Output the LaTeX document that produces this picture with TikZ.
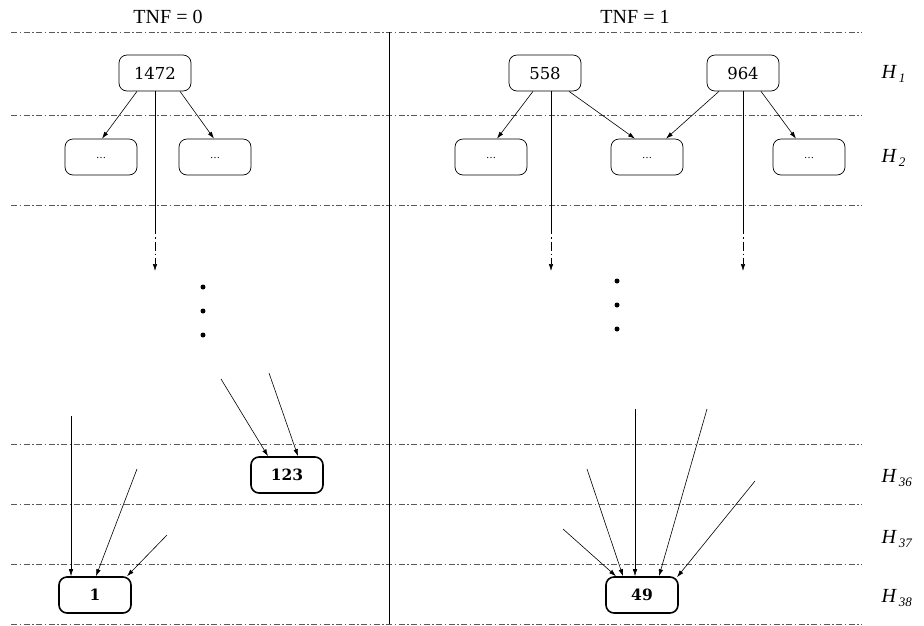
\documentclass[tikz,border=0pt]{standalone}
\usepackage{fontspec}
\newfontfamily\tms{Liberation Serif}
\newfontfamily\dvs{DejaVu Serif}
\usetikzlibrary{arrows.meta}
\begin{document}
\begin{tikzpicture}[x=1pt,y=-1pt,
  level/.style={draw=black!65,line width=0.7pt,dash pattern=on 6pt off 2.5pt on 1.5pt off 2.5pt},
  tnode/.style={draw,rounded corners=8pt,minimum width=72pt,minimum height=36pt,inner sep=0pt,line width=0.7pt,font=\dvs\fontsize{16.5}{16.5}\selectfont},
  bnode/.style={tnode,line width=1.6pt,font=\dvs\fontsize{15.5}{15.5}\selectfont\bfseries},
  arr/.style={line width=0.6pt,-{Latex[length=7pt,width=4.5pt]}},
  dd/.style={arr,dash pattern=on 9pt off 3pt on 1.5pt off 3pt},
  hlab/.style={font=\fontsize{20}{20}\selectfont\tms\itshape,anchor=west},
  dotc/.style={circle,fill,inner sep=0pt,minimum size=5pt}
]
\useasboundingbox (0,0) rectangle (924,625);
% level lines
\foreach \y in {32,115,205,444,504,564,624}
  \draw[level] (11,\y) -- (862,\y);
\coordinate (vt) at (389,32);
\coordinate (vb) at (389,624);
\draw[line width=0.8pt] (vt) -- (vb);
% titles
\node[font=\fontsize{20}{20}\selectfont\tms] (t0) at (168,17) {TNF = 0};
\node[font=\fontsize{20}{20}\selectfont\tms] (t1) at (635,17) {TNF = 1};
% level labels
\node[hlab] (h1) at (878,74) {H\kern3pt\raisebox{-4pt}{\fontsize{13}{13}\selectfont 1}};
\node[hlab] (h2) at (878,158) {H\kern3pt\raisebox{-4pt}{\fontsize{13}{13}\selectfont 2}};
\node[hlab] (h36) at (878,478) {H\kern3pt\raisebox{-4pt}{\fontsize{13}{13}\selectfont 36}};
\node[hlab] (h37) at (878,539) {H\kern3pt\raisebox{-4pt}{\fontsize{13}{13}\selectfont 37}};
\node[hlab] (h38) at (878,598) {H\kern3pt\raisebox{-4pt}{\fontsize{13}{13}\selectfont 38}};
% nodes
\node[tnode] (n1472) at (155,73) {1472};
\node[tnode,font=\dvs\fontsize{10}{10}\selectfont] (l1) at (101,157) {\raisebox{-3pt}{…}};
\node[tnode,font=\dvs\fontsize{10}{10}\selectfont] (l2) at (215,157) {\raisebox{-3pt}{…}};
\node[tnode] (n558) at (545,73) {558};
\node[tnode] (n964) at (743,73) {964};
\node[tnode,font=\dvs\fontsize{10}{10}\selectfont] (r1) at (491,157) {\raisebox{-3pt}{…}};
\node[tnode,font=\dvs\fontsize{10}{10}\selectfont] (r2) at (647,157) {\raisebox{-3pt}{…}};
\node[tnode,font=\dvs\fontsize{10}{10}\selectfont] (r3) at (809,157) {\raisebox{-3pt}{…}};
\node[bnode] (n123) at (287,475) {123};
\node[bnode] (n1) at (95,595) {1};
\node[bnode] (n49) at (642,595) {49};
% tree edges
\draw[arr] ([xshift=-18pt]n1472.south) -- ([xshift=1pt]l1.north);
\draw[arr] ([xshift=25pt]n1472.south) -- ([xshift=-1pt]l2.north);
\draw[arr] ([xshift=-12pt]n558.south) -- ([xshift=6pt]r1.north);
\draw[arr] ([xshift=24pt]n558.south) -- ([xshift=-12pt]r2.north);
\draw[arr] ([xshift=-24pt]n964.south) -- ([xshift=19pt]r2.north);
\draw[arr] ([xshift=18pt]n964.south) -- ([xshift=-13pt]r3.north);
% long downward lines
\coordinate (a1) at (155,225); \coordinate (a1e) at (155,271);
\coordinate (a2) at (551,225); \coordinate (a2e) at (551,271);
\coordinate (a3) at (743,225); \coordinate (a3e) at (743,271);
\draw[line width=0.6pt] (n1472.south) -- (a1);
\draw[dd] (a1) -- (a1e);
\draw[line width=0.6pt] ([xshift=6pt]n558.south) -- (a2);
\draw[dd] (a2) -- (a2e);
\draw[line width=0.6pt] (n964.south) -- (a3);
\draw[dd] (a3) -- (a3e);
% vertical ellipses
\node[dotc] (dl1) at (203,287) {};
\node[dotc] (dl2) at (203,311) {};
\node[dotc] (dl3) at (203,335) {};
\node[dotc] (dr1) at (617,281) {};
\node[dotc] (dr2) at (617,305) {};
\node[dotc] (dr3) at (617,329) {};
% incoming edges to 123
\coordinate (p1) at (221,379);
\coordinate (p2) at (269,373);
\draw[arr] (p1) -- ([xshift=-19pt]n123.north);
\draw[arr] (p2) -- ([xshift=11pt]n123.north);
% incoming edges to 1
\coordinate (q1) at (71,416);
\coordinate (q2) at (137,469);
\coordinate (q3) at (167,535);
\draw[arr] (q1) -- ([xshift=-24pt]n1.north);
\draw[arr] (q2) -- ([xshift=1pt]n1.north);
\draw[arr] (q3) -- ([xshift=32pt]n1.north);
% incoming edges to 49
\coordinate (s1) at (563,529);
\coordinate (s2) at (587,469);
\coordinate (s3) at (635,409);
\coordinate (s4) at (707,409);
\coordinate (s5) at (755,481);
\draw[arr] (s1) -- ([xshift=-26pt]n49.north);
\draw[arr] (s2) -- ([xshift=-19pt]n49.north);
\draw[arr] (s3) -- ([xshift=-7pt]n49.north);
\draw[arr] (s4) -- ([xshift=17pt]n49.north);
\draw[arr] (s5) -- ([xshift=35pt,yshift=-1pt]n49.north);
\end{tikzpicture}
\end{document}
